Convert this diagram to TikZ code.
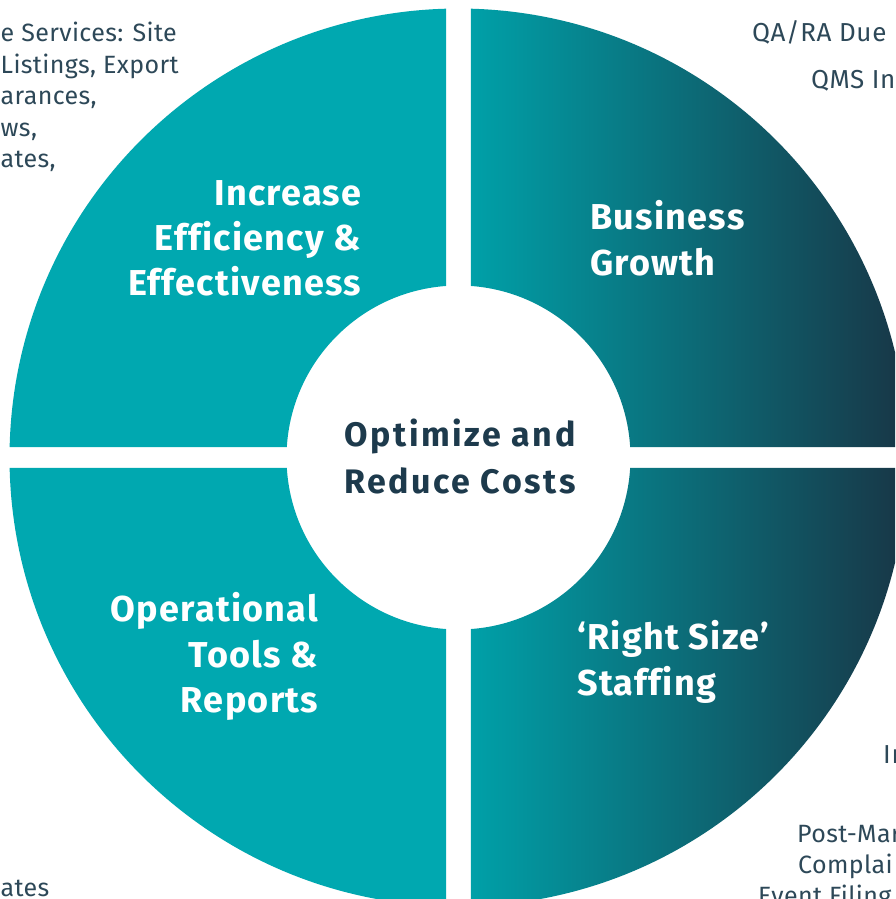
\documentclass[tikz,border=0pt]{standalone}
\usepackage{fontspec}
\setmainfont{Fira Sans}
\newfontfamily\lblfont[LetterSpace=3.5,Ligatures=CommonOff]{Fira Sans}
\newfontfamily\ctrfont[LetterSpace=7.5,Ligatures=CommonOff]{Fira Sans}
\newfontfamily\outfont[LetterSpace=2.5,Ligatures=CommonOff]{Fira Sans}
\newfontfamily\outfontL[LetterSpace=1.5,Ligatures=CommonOff]{Fira Sans}
\definecolor{teal}{HTML}{00A8B0}
\definecolor{tealL}{HTML}{00A0A8}
\definecolor{navy}{HTML}{183646}
\definecolor{ctext}{HTML}{1D3A4C}
\definecolor{otext}{HTML}{2D4858}
\tikzset{
  lbl/.style={font=\lblfont\fontsize{36}{45}\selectfont\bfseries, text=white, inner sep=0pt},
  ctr/.style={font=\ctrfont\fontsize{34}{46}\selectfont\bfseries, text=ctext, inner sep=0pt},
  outer/.style={font=\outfont\fontsize{26}{32}\selectfont, text=otext, inner sep=0pt},
  outerL/.style={font=\outfontL\fontsize{25}{32}\selectfont, text=otext, inner sep=0pt},
}
\pgfmathsetmacro{\Ro}{449}
\pgfmathsetmacro{\Ri}{172}
\pgfmathsetmacro{\aA}{90-asin(12.5/449)}
\pgfmathsetmacro{\aB}{asin(10.5/449)}
\pgfmathsetmacro{\aC}{asin(10.5/172)}
\pgfmathsetmacro{\aD}{90-asin(12.5/172)}
\begin{document}
\begin{tikzpicture}[x=1pt,y=1pt]
\useasboundingbox (-458.5,-441.5) rectangle (436.5,457.5);
\fill[white] (-458.5,-441.5) rectangle (436.5,457.5);
\clip (-458.5,-441.5) rectangle (436.5,457.5);
% top-right
\shade[left color=tealL, right color=navy] (\aA:\Ro) arc[start angle=\aA, end angle=\aB, radius=\Ro] -- (\aC:\Ri) arc[start angle=\aC, end angle=\aD, radius=\Ri] -- cycle;
% bottom-right
\begin{scope}[yscale=-1]
\shade[left color=tealL, right color=navy] (\aA:\Ro) arc[start angle=\aA, end angle=\aB, radius=\Ro] -- (\aC:\Ri) arc[start angle=\aC, end angle=\aD, radius=\Ri] -- cycle;
\end{scope}
% top-left
\begin{scope}[xscale=-1]
\fill[teal] (\aA:\Ro) arc[start angle=\aA, end angle=\aB, radius=\Ro] -- (\aC:\Ri) arc[start angle=\aC, end angle=\aD, radius=\Ri] -- cycle;
\end{scope}
% bottom-left
\begin{scope}[xscale=-1,yscale=-1]
\fill[teal] (\aA:\Ro) arc[start angle=\aA, end angle=\aB, radius=\Ro] -- (\aC:\Ri) arc[start angle=\aC, end angle=\aD, radius=\Ri] -- cycle;
\end{scope}
% quadrant labels
\node[lbl, anchor=base east] (inc1) at (-97,251.5) {Increase};
\node[lbl, anchor=base east] (inc2) at (-97,206.5) {Efficiency \&};
\node[lbl, anchor=base east] (inc3) at (-97,161.5) {Effectiveness};
\node[lbl, anchor=base west] (bus1) at (131.5,227.5) {Business};
\node[lbl, anchor=base west] (bus2) at (131.5,181.5) {Growth};
\node[lbl, anchor=base east] (op1) at (-140,-164) {Operational};
\node[lbl, anchor=base east] (op2) at (-140,-210) {Tools \&};
\node[lbl, anchor=base east] (op3) at (-140,-255) {Reports};
\node[lbl, anchor=base west] (rs1) at (118.5,-191.5) {‘Right Size’};
\node[lbl, anchor=base west] (rs2) at (118.5,-237.5) {Staffing};
% centre
\node[ctr, anchor=base] (c1) at (1.5,10.5) {Optimize and};
\node[ctr, anchor=base] (c2) at (1.5,-35.5) {Reduce Costs};
% outer clipped texts
\node[outerL, anchor=base west] (t1) at (-458,415.5) {e Services: Site};
\node[outerL, anchor=base west] (t2) at (-458,383.5) {Listings, Export};
\node[outerL, anchor=base west] (t3) at (-458,352.5) {arances,};
\node[outerL, anchor=base west] (t4) at (-458,320.5) {ws,};
\node[outerL, anchor=base west] (t5) at (-458,289.5) {ates,};
\node[outer, anchor=base west] (r1) at (293.5,415.5) {QA/RA Due};
\node[outer, anchor=base west] (r2) at (352.5,368.5) {QMS In};
\node[outer, anchor=base west] (r3) at (424.5,-305.5) {In};
\node[outerL, anchor=base west] (r4) at (338.5,-384.5) {Post-Mar};
\node[outerL, anchor=base west] (r5) at (339.5,-415.5) {Complai};
\node[outerL, anchor=base west] (r6) at (299.5,-446.5) {Event Filing};
\node[outerL, anchor=base west] (b1) at (-458,-438.5) {ates};
\end{tikzpicture}
\end{document}
